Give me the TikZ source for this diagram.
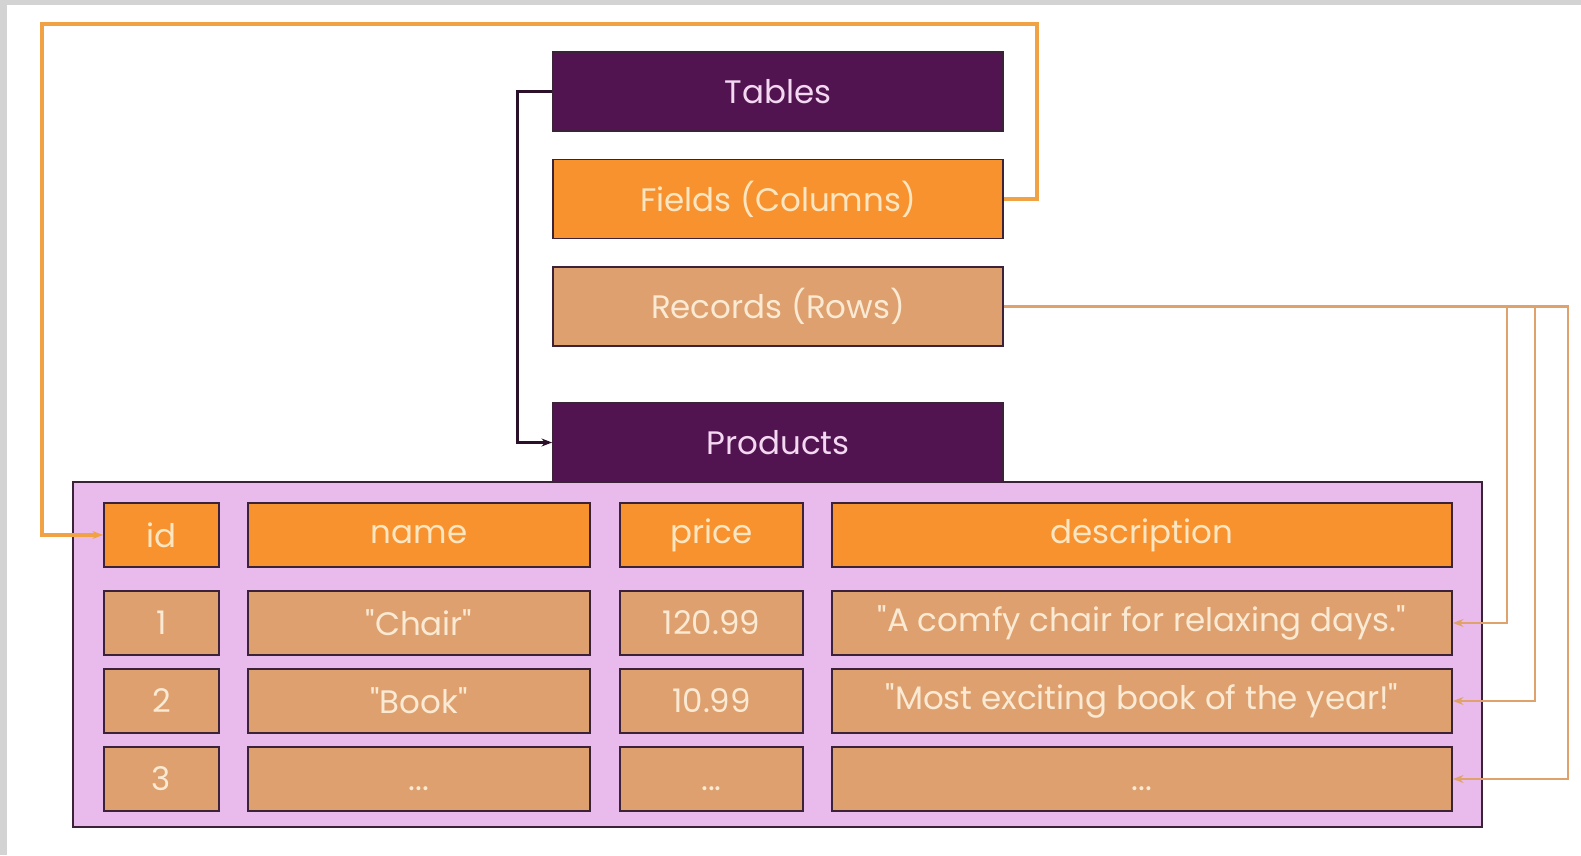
\documentclass[tikz,border=0pt]{standalone}
\usepackage{fontspec}
\setmainfont{Poppins}
\usetikzlibrary{arrows.meta}
\definecolor{dbplum}{HTML}{511450}
\definecolor{dbplumtext}{HTML}{F4D8F2}
\definecolor{dbfield}{HTML}{F7922F}
\definecolor{dbfieldtext}{HTML}{FCE6C2}
\definecolor{dbrecord}{HTML}{DDA06E}
\definecolor{dbrecordtext}{HTML}{FAEAD4}
\definecolor{dblavender}{HTML}{E8BBEC}
\definecolor{dbedge}{HTML}{3B2238}
\definecolor{dbdark}{HTML}{2A1028}
\definecolor{dbcolline}{HTML}{F0A244}
\definecolor{dbrowline}{HTML}{DFA26C}
\definecolor{dbframe}{HTML}{D3D3D3}
\newcommand{\qq}[1]{\textquotedbl#1\textquotedbl}
\newcommand{\more}{\vphantom{1}...}

\begin{document}
\begin{tikzpicture}[
  x=0.02cm,
  y=-0.02cm,
  every node/.style={font=\fontsize{18.5}{22}\selectfont},
  box/.style={draw=dbedge, line width=1.1pt, minimum width=9cm,
    minimum height=1.58cm, inner sep=0pt},
  titlebox/.style={box, fill=dbplum, text=dbplumtext},
  fieldbox/.style={box, fill=dbfield, text=dbfieldtext},
  recordbox/.style={box, fill=dbrecord, text=dbrecordtext},
  cell/.style={draw=dbedge, line width=1.1pt, minimum height=1.28cm, inner sep=0pt},
  headcell/.style={cell, fill=dbfield, text=dbfieldtext},
  datacell/.style={cell, fill=dbrecord, text=dbrecordtext},
  idcol/.style={minimum width=2.3cm},
  namecol/.style={minimum width=6.84cm},
  pricecol/.style={minimum width=3.66cm},
  desccol/.style={minimum width=12.4cm},
  tablelink/.style={dbdark, line width=1.8pt, -{Stealth[length=6pt]}},
  collink/.style={dbcolline, line width=1.8pt, -{Stealth[length=6pt]}},
  rowlink/.style={dbrowline, line width=1.6pt, -{Stealth[length=6pt]}}
]
  % ---- page size and the grey screenshot edge --------------------------
  \useasboundingbox (0,0) rectangle (1581,855);
  \fill[dbframe] (0,0) rectangle (7,855);
  \fill[dbframe] (0,0) rectangle (1581,5);

  % ---- the three terms ---------------------------------------------------
  \node[titlebox] (tables) at (778,91.5) {Tables};
  \node[fieldbox] (fields) at (778,199) {Fields (Columns)};
  \node[recordbox] (records) at (778,306.5) {Records (Rows)};

  % ---- the example table -------------------------------------------------
  \node[draw=dbedge, line width=1.1pt, fill=dblavender, inner sep=0pt,
    minimum width=28.18cm, minimum height=6.9cm] (tablebox) at (777.5,654.5) {};
  \node[titlebox] (products) at (778,442.5) {Products};

  % header
  \node[headcell, idcol] (hid) at (161.5,535) {id};
  \node[headcell, namecol] (hname) at (419,535) {name};
  \node[headcell, pricecol] (hprice) at (711.5,535) {price};
  \node[headcell, desccol] (hdesc) at (1142,535) {description};

  % first record
  \node[datacell, idcol] (id1) at (161.5,623) {1};
  \node[datacell, namecol] (name1) at (419,623) {\qq{Chair}};
  \node[datacell, pricecol] (price1) at (711.5,623) {120.99};
  \node[datacell, desccol] (desc1) at (1142,623) {\qq{A comfy chair for relaxing days.}};

  % second record
  \node[datacell, idcol] (id2) at (161.5,701) {2};
  \node[datacell, namecol] (name2) at (419,701) {\qq{Book}};
  \node[datacell, pricecol] (price2) at (711.5,701) {10.99};
  \node[datacell, desccol] (desc2) at (1142,701) {\qq{Most exciting book of the year!}};

  % third record
  \node[datacell, idcol] (id3) at (161.5,779) {3};
  \node[datacell, namecol] (name3) at (419,779) {\more};
  \node[datacell, pricecol] (price3) at (711.5,779) {\more};
  \node[datacell, desccol] (desc3) at (1142,779) {\more};

  % ---- connectors ----------------------------------------------------------
  \draw[tablelink] (tables.west) -- ++(-35,0) |- (products.west);

  \coordinate (loopR) at (1037,24);
  \coordinate (loopL) at (42,24);
  \draw[collink] (fields.east) -| (loopR) -- (loopL) |- (hid.west);

  \coordinate (tap1) at (1507,623);
  \coordinate (tap2) at (1535,701);
  \coordinate (tap3) at (1568,779);
  \draw[rowlink] (records.east) -| (tap1) -- (desc1.east);
  \draw[rowlink] (records.east) -| (tap2) -- (desc2.east);
  \draw[rowlink] (records.east) -| (tap3) -- (desc3.east);
\end{tikzpicture}
\end{document}
